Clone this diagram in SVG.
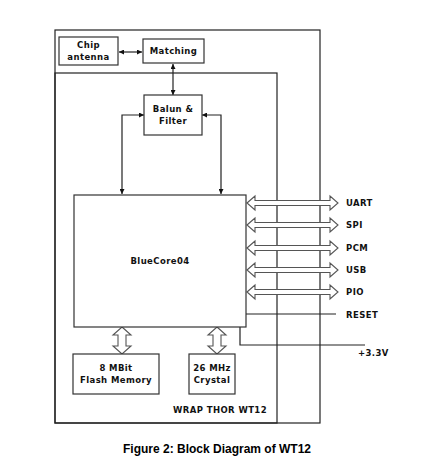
<svg xmlns="http://www.w3.org/2000/svg" width="447" height="466" viewBox="0 0 447 466">
<style>
.box{fill:#fff;stroke:#333;stroke-width:1.2}
.frame{fill:none;stroke:#222;stroke-width:1.2}
.ln{fill:none;stroke:#222;stroke-width:1.2}
.t{font-family:"DejaVu Sans",Verdana,sans-serif;font-weight:bold;font-size:8.5px;fill:#111;letter-spacing:0.4px}
.hol{fill:#fff;stroke:#555;stroke-width:1.1}
.cap{font-family:"Liberation Sans",Arial,sans-serif;font-weight:bold;font-size:12px;fill:#000}
</style>
<defs>
<marker id="ah" viewBox="0 0 10 10" refX="10" refY="5" markerWidth="5" markerHeight="5" orient="auto-start-reverse" markerUnits="userSpaceOnUse">
<path d="M0,0L10,5L0,10z" fill="#111"/>
</marker>
<polygon id="harr" points="0,0 8,-7 8,-2.5 83,-2.5 83,-7 91,0 83,7 83,2.5 8,2.5 8,7"/>
<polygon id="varr" points="0,0 9,8 4,8 4,19 9,19 0,27 -9,19 -4,19 -4,8 -9,8"/>
</defs>
<rect width="447" height="466" fill="#fff"/>
<g id="frame">
<rect class="frame" x="55" y="30" width="265" height="393"/>
<rect class="frame" x="55" y="73" width="222" height="350"/>
<text class="t" x="267" y="413" text-anchor="end" letter-spacing="0">WRAP THOR WT12</text>
</g>
<g id="connectors">
<line class="ln" x1="119" y1="52" x2="142" y2="52" marker-start="url(#ah)" marker-end="url(#ah)"/>
<line class="ln" x1="173" y1="64" x2="173" y2="95" marker-start="url(#ah)" marker-end="url(#ah)"/>
<polyline class="ln" points="122,194 122,115 144,115" marker-start="url(#ah)" marker-end="url(#ah)"/>
<polyline class="ln" points="221,194 221,115 202,115" marker-start="url(#ah)" marker-end="url(#ah)"/>
<use href="#harr" class="hol" x="247" y="203"/>
<use href="#harr" class="hol" x="247" y="225"/>
<use href="#harr" class="hol" x="247" y="248"/>
<use href="#harr" class="hol" x="247" y="270"/>
<use href="#harr" class="hol" x="247" y="292"/>
<line class="ln" x1="246" y1="314" x2="336" y2="314"/>
<polyline class="ln" points="240,327 240,345 365,345"/>
<use href="#varr" class="hol" x="122" y="327"/>
<use href="#varr" class="hol" x="217" y="327"/>
</g>
<g id="chip-antenna">
<rect class="box" x="59" y="37" width="59" height="28"/>
<text class="t" x="88.5" y="48" text-anchor="middle">Chip</text>
<text class="t" x="88.5" y="60" text-anchor="middle">antenna</text>
</g>
<g id="matching">
<rect class="box" x="143" y="39" width="61" height="24"/>
<text class="t" x="173.5" y="54" text-anchor="middle">Matching</text>
</g>
<g id="balun">
<rect class="box" x="144" y="95" width="58" height="40"/>
<text class="t" x="173" y="112" text-anchor="middle">Balun &amp;</text>
<text class="t" x="173" y="124" text-anchor="middle">Filter</text>
</g>
<g id="bluecore">
<rect class="box" x="74" y="195" width="172" height="132"/>
<text class="t" x="160" y="264" text-anchor="middle">BlueCore04</text>
</g>
<g id="flash">
<rect class="box" x="73" y="354" width="86" height="40"/>
<text class="t" x="116" y="371" text-anchor="middle">8 MBit</text>
<text class="t" x="116" y="383" text-anchor="middle">Flash Memory</text>
</g>
<g id="crystal">
<rect class="box" x="189" y="354" width="46" height="40"/>
<text class="t" x="212" y="371" text-anchor="middle">26 MHz</text>
<text class="t" x="212" y="383" text-anchor="middle">Crystal</text>
</g>
<g id="labels">
<text class="t" x="346" y="206" letter-spacing="1.2">UART</text>
<text class="t" x="346" y="228" letter-spacing="1.2">SPI</text>
<text class="t" x="346" y="251" letter-spacing="1.2">PCM</text>
<text class="t" x="346" y="273" letter-spacing="1.2">USB</text>
<text class="t" x="346" y="295" letter-spacing="1.2">PIO</text>
<text class="t" x="346" y="318" letter-spacing="1.2">RESET</text>
<text class="t" x="358" y="356" letter-spacing="1.2">+3.3V</text>
</g>
<text class="cap" x="123" y="453">Figure 2: Block Diagram of WT12</text>
</svg>
